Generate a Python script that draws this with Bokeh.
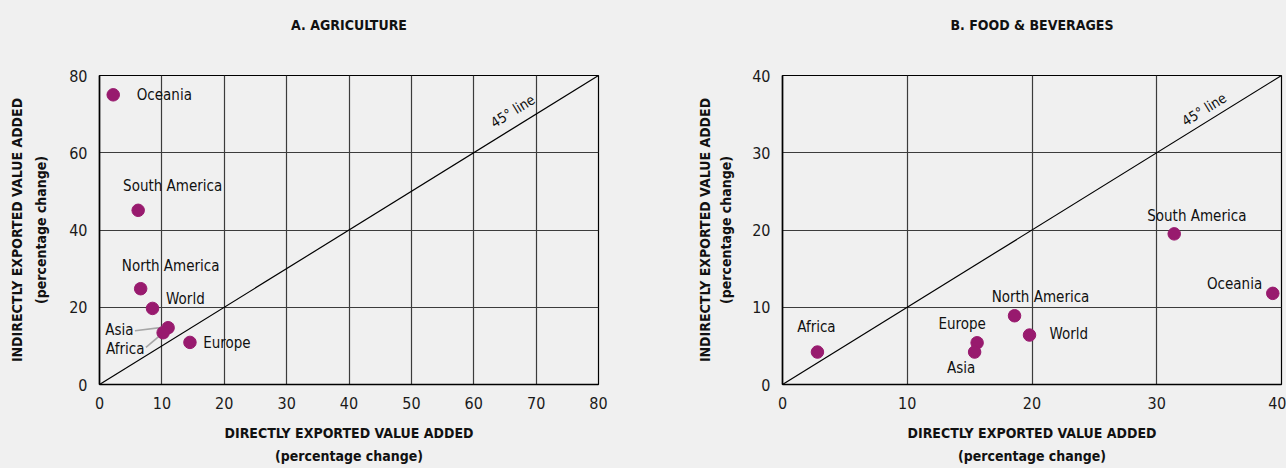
import math
from bokeh.plotting import figure
from bokeh.models import ColumnDataSource, Range1d, FixedTicker, Title
from bokeh.layouts import row
from bokeh.embed import file_html
from bokeh.resources import INLINE
from bokeh.core.properties import value

FONT = "'Liberation Sans Narrow', 'DejaVu Sans Condensed', 'Arial Narrow', sans-serif"
BG = "#f0f0f0"
PURPLE = "#981a6e"

# ---------------- data ----------------
# Panel A: agriculture
agri_regions = ["Oceania", "South America", "North America", "World", "Asia", "Africa", "Europe"]
agri_direct = [2.2, 6.2, 6.6, 8.5, 11.0, 10.2, 14.5]
agri_indirect = [75.0, 45.1, 24.8, 19.7, 14.7, 13.4, 10.9]
agri_xticks = [0, 10, 20, 30, 40, 50, 60, 70, 80]
agri_yticks = [0, 20, 40, 60, 80]

# Panel B: food & beverages
food_regions = ["Africa", "Europe", "Asia", "North America", "World", "South America", "Oceania"]
food_direct = [2.8, 15.6, 15.4, 18.6, 19.8, 31.4, 39.3]
food_indirect = [4.2, 5.4, 4.2, 8.9, 6.4, 19.5, 11.8]
food_xticks = [0, 10, 20, 30, 40]
food_yticks = [0, 10, 20, 30, 40]

# ---------------- label layout (pixel offsets, right / down) ----------------
agri_dx = [23.5, 34.5, 30, 13.6, -34.6, -18.7, 13.2]
agri_dy = [0, -24.6, -22.3, -9.7, 2.4, 16.7, 1]
agri_align = ["left", "center", "center", "left", "right", "right", "left"]
# leader lines (Asia, Africa): from label side to point side, px offsets from the point
agri_leaders = {"Asia": ((-33.2, 3.0), (-3.6, -0.6)), "Africa": ((-17.2, 14.7), (-2.7, 2.4))}

food_dx = [-1, -15, -13.4, 26, 20, 22.6, -10.6]
food_dy = [-24.7, -19, 16.3, -19, -1.3, -18.3, -9]
food_align = ["center", "center", "center", "center", "left", "center", "right"]

W, H = 643, 468
TOP, BOTTOM = 75, 84
FRAME_H = H - TOP - BOTTOM

XLABEL = "DIRECTLY EXPORTED VALUE ADDED\n(percentage change)"
YLABEL = "INDIRECTLY EXPORTED VALUE ADDED\n(percentage change)"


def make_panel(title, regions, xs, ys, vmax, xticks, yticks, dx, dy, align,
               left, right, pos45, gap45, ylab_standoff, ylab_lh, leaders=None):
    frame_w = W - left - right
    p = figure(width=W, height=H, output_backend="svg", toolbar_location=None,
               x_range=Range1d(0, vmax), y_range=Range1d(0, vmax),
               min_border_left=left, min_border_right=right,
               min_border_top=TOP, min_border_bottom=BOTTOM,
               background_fill_color=BG, border_fill_color=BG,
               outline_line_color="black", outline_line_width=1.2)

    # panel title: a spacer keeps the title well above the frame
    p.add_layout(Title(text=" ", text_font_size="1px", standoff=40), "above")
    p.add_layout(Title(text=title, align="center", standoff=0,
                       text_font=FONT, text_font_size="14px", text_font_style="bold",
                       text_color="#111111"), "above")

    p.xaxis.ticker = FixedTicker(ticks=xticks)
    p.yaxis.ticker = FixedTicker(ticks=yticks)
    p.xgrid.ticker = FixedTicker(ticks=xticks)
    p.ygrid.ticker = FixedTicker(ticks=yticks)
    for g in (p.xgrid, p.ygrid):
        g.grid_line_color = "#3c3c3c"
        g.grid_line_width = 1.2
    for ax in (p.xaxis, p.yaxis):
        ax.axis_line_color = "black"
        ax.axis_line_width = 1.6
        ax.major_tick_out = 0
        ax.major_tick_in = 0
        ax.minor_tick_out = 0
        ax.minor_tick_in = 0
        ax.major_label_text_font = FONT
        ax.major_label_text_font_size = "16px"
        ax.major_label_text_color = "#1a1a1a"
        ax.axis_label_text_font = FONT
        ax.axis_label_text_font_size = "14px"
        ax.axis_label_text_font_style = "bold"
        ax.axis_label_text_color = "#111111"
    p.xaxis.axis_label = XLABEL
    p.yaxis.axis_label = YLABEL
    p.xaxis.major_label_standoff = 12
    p.yaxis.major_label_standoff = 12
    p.xaxis.axis_label_standoff = 13
    p.yaxis.axis_label_standoff = ylab_standoff
    p.xaxis.axis_label_text_line_height = 1.45
    p.yaxis.axis_label_text_line_height = ylab_lh

    # 45 degree line
    p.line([0, vmax], [0, vmax], line_color="black", line_width=1.2)
    theta = math.atan(FRAME_H / frame_w)
    p.text(x=[pos45], y=[pos45], text=["45° line"], angle=theta,
           text_font=value(FONT), text_font_size=value("14px"),
           text_align="center", text_baseline="bottom",
           x_offset=-gap45 * math.sin(theta), y_offset=-gap45 * math.cos(theta),
           text_color="#111111")

    # leader lines
    if leaders:
        kx = frame_w / vmax
        ky = FRAME_H / vmax
        for name, ((ax0, ay0), (ax1, ay1)) in leaders.items():
            i = regions.index(name)
            p.line([xs[i] + ax0 / kx, xs[i] + ax1 / kx],
                   [ys[i] - ay0 / ky, ys[i] - ay1 / ky],
                   line_color="#a6a6a6", line_width=1.6)

    src = ColumnDataSource(dict(x=xs, y=ys, name=regions, dx=dx, dy=dy, align=align))
    p.scatter("x", "y", source=src, size=12.5, fill_color=PURPLE, line_color=PURPLE)
    p.text("x", "y", text="name", source=src, x_offset="dx", y_offset="dy",
           text_align="align", text_baseline="middle",
           text_font=value(FONT), text_font_size=value("15px"), text_color="#111111")
    return p


p1 = make_panel("A. AGRICULTURE", agri_regions, agri_direct, agri_indirect, 80,
                agri_xticks, agri_yticks, agri_dx, agri_dy, agri_align,
                left=99, right=45, pos45=67.5, gap45=7,
                ylab_standoff=17, ylab_lh=1.5, leaders=agri_leaders)
p2 = make_panel("B. FOOD & BEVERAGES", food_regions, food_direct, food_indirect, 40,
                food_xticks, food_yticks, food_dx, food_dy, food_align,
                left=139, right=5, pos45=34.3, gap45=4,
                ylab_standoff=15, ylab_lh=1.33)

p = row(p1, p2, spacing=0)
html = file_html(p, INLINE)
html = html.replace("</head>", "<style>html, body { background: %s; }</style></head>" % BG, 1)
open("out.html", "w").write(html)
